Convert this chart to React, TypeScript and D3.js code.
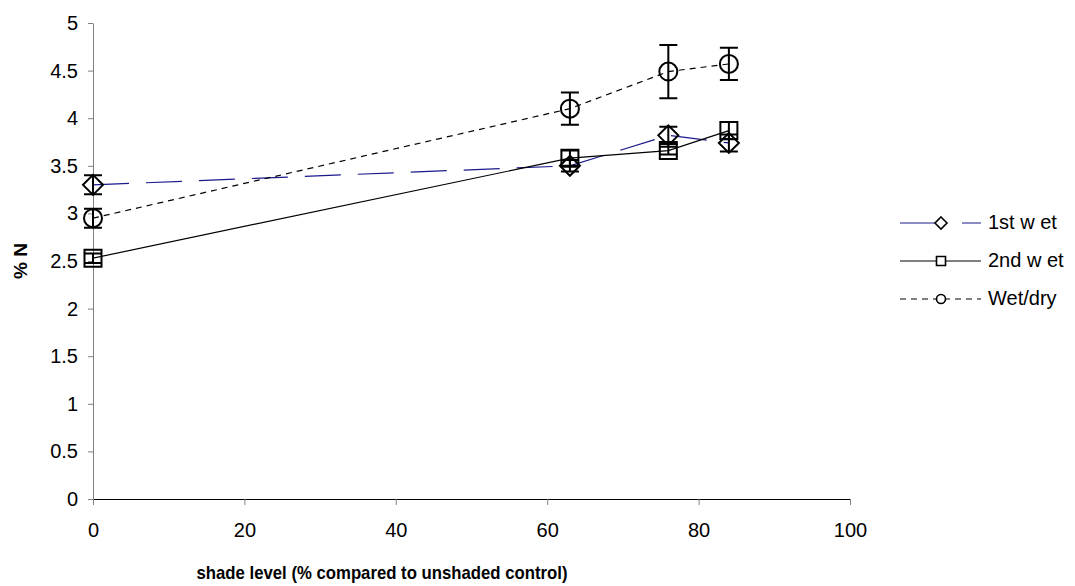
import { useEffect, useRef } from "react";
import * as d3 from "d3";

const SHADE = [0, 63, 76, 84];
const FIRST_WET = [3.3, 3.5, 3.82, 3.74];
const FIRST_WET_ERR = [0.1, 0.06, 0.09, 0.09];
const SECOND_WET = [2.53, 3.58, 3.66, 3.87];
const SECOND_WET_ERR = [0.05, 0.08, 0.04, 0.09];
const WET_DRY = [2.95, 4.1, 4.49, 4.57];
const WET_DRY_ERR = [0.1, 0.17, 0.28, 0.17];

const X_TICKS = [0, 20, 40, 60, 80, 100];
const Y_TICKS = [0, 0.5, 1, 1.5, 2, 2.5, 3, 3.5, 4, 4.5, 5];

const SERIES = [
  { label: "1st w et", values: FIRST_WET, err: FIRST_WET_ERR, color: "#1a1a8c", dash: "36,17", legendDash: "37,25", marker: "diamond" },
  { label: "2nd w et", values: SECOND_WET, err: SECOND_WET_ERR, color: "#000", dash: "none", legendDash: "none", marker: "square" },
  { label: "Wet/dry", values: WET_DRY, err: WET_DRY_ERR, color: "#000", dash: "6,5", legendDash: "6,5", marker: "circle" },
];

const FONT = "'Liberation Sans', Arial, sans-serif";

function markerPath(kind: string, s: number) {
  if (kind === "diamond") return `M0,${-s}L${s},0L0,${s}L${-s},0Z`;
  if (kind === "square") return `M${-s},${-s}H${s}V${s}H${-s}Z`;
  return d3.arc()({ innerRadius: 0, outerRadius: s, startAngle: 0, endAngle: 2 * Math.PI } as any) as string;
}

export default function App() {
  const svgRef = useRef<SVGSVGElement>(null);

  useEffect(() => {
    if (!svgRef.current) return;
    const W = 1075, H = 586;
    const svg = d3.select(svgRef.current);
    svg.selectAll("*").remove();
    svg.attr("width", W).attr("height", H);

    const x = d3.scaleLinear().domain([0, 100]).range([93, 850]);
    const y = d3.scaleLinear().domain([0, 5]).range([499, 23]);

    // Axes
    const yAx = svg.append("g").attr("transform", `translate(${x(0)},0)`)
      .call(d3.axisLeft(y).tickValues(Y_TICKS).tickSize(5).tickSizeOuter(0).tickPadding(10).tickFormat(d => `${d}`));
    yAx.select(".domain").attr("stroke", "#808080");
    yAx.selectAll("line").attr("stroke", "#808080");
    yAx.selectAll("text").attr("font-size", 20).attr("font-family", FONT).attr("fill", "#000");

    const xAx = svg.append("g").attr("transform", `translate(0,${y(0)})`)
      .call(d3.axisBottom(x).tickValues(X_TICKS).tickSize(6).tickSizeOuter(0).tickPadding(18).tickFormat(d => `${d}`));
    xAx.select(".domain").attr("stroke", "#000");
    xAx.selectAll("line").attr("stroke", "#808080");
    xAx.selectAll("text").attr("font-size", 20).attr("font-family", FONT).attr("fill", "#000");

    // Axis titles
    svg.append("text")
      .attr("x", 382).attr("y", 579)
      .attr("text-anchor", "middle").attr("font-size", 19).attr("font-weight", 700)
      .attr("font-family", FONT)
      .attr("textLength", 371).attr("lengthAdjust", "spacingAndGlyphs")
      .text("shade level (% compared to unshaded control)");
    svg.append("text")
      .attr("transform", `translate(27,261) rotate(-90)`)
      .attr("text-anchor", "middle").attr("font-size", 19).attr("font-weight", 700)
      .attr("font-family", FONT).text("% N");

    const line = d3.line<number>().x((_, i) => x(SHADE[i])).y(d => y(d));
    const msize: Record<string, number> = { diamond: 10, square: 8.5, circle: 9 };

    SERIES.forEach(s => {
      svg.append("path").datum(s.values)
        .attr("d", line).attr("fill", "none")
        .attr("stroke", s.color).attr("stroke-width", 1.2)
        .attr("stroke-dasharray", s.dash);
    });

    SERIES.forEach(s => {
      const g = svg.append("g");
      s.values.forEach((v, i) => {
        const cx = x(SHADE[i]);
        const y1 = y(v + s.err[i]), y2 = y(v - s.err[i]);
        g.append("path")
          .attr("d", `M${cx},${y1}V${y2}M${cx - 9},${y1}H${cx + 9}M${cx - 9},${y2}H${cx + 9}`)
          .attr("stroke", "#000").attr("stroke-width", 2).attr("fill", "none");
        g.append("path")
          .attr("d", markerPath(s.marker, msize[s.marker]))
          .attr("transform", `translate(${cx},${y(v)})`)
          .attr("fill", "none").attr("stroke", "#000").attr("stroke-width", 2);
      });
    });

    // Legend
    const legendY = [223, 261, 299];
    SERIES.forEach((s, i) => {
      const ly = legendY[i];
      svg.append("line")
        .attr("x1", 900).attr("x2", 981).attr("y1", ly).attr("y2", ly)
        .attr("stroke", s.color).attr("stroke-width", 1.2)
        .attr("stroke-dasharray", s.legendDash);
      svg.append("path")
        .attr("d", markerPath(s.marker, s.marker === "diamond" ? 6 : 4.5))
        .attr("transform", `translate(941,${ly})`)
        .attr("fill", "#fff").attr("stroke", "#000").attr("stroke-width", 1.6);
      svg.append("text")
        .attr("x", 988).attr("y", ly + 6)
        .attr("font-size", 20).attr("font-family", FONT).text(s.label);
    });
  }, []);

  return (
    <div style={{ position: "absolute", left: 0, top: 0, background: "#fff" }}>
      <svg ref={svgRef} style={{ display: "block" }} />
    </div>
  );
}
